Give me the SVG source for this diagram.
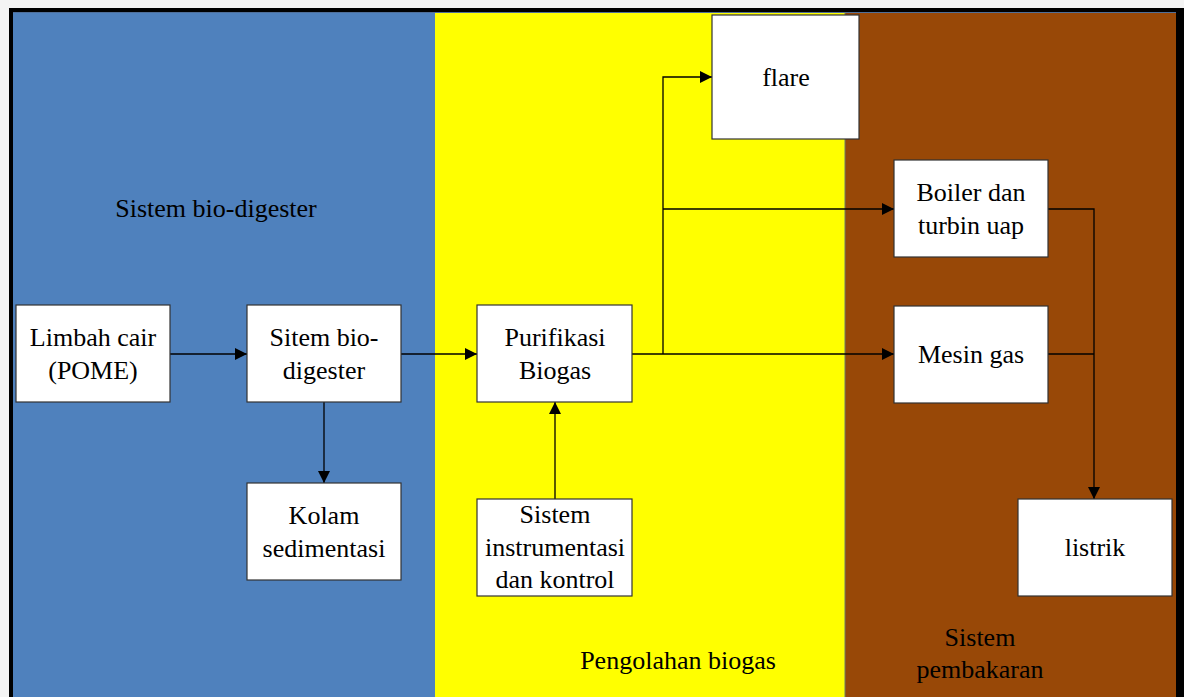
<svg xmlns="http://www.w3.org/2000/svg" width="1184" height="697" viewBox="0 0 1184 697" font-family="'Liberation Serif', 'Times New Roman', 'DejaVu Serif', serif">
<style>
text{font-family:"Liberation Serif","Times New Roman","DejaVu Serif",serif;font-size:26px;fill:#000;text-anchor:middle}
.box{fill:#fff;stroke:#333;stroke-width:1.2}
.c{fill:none;stroke:#000;stroke-width:1.3}
</style>
<defs>
<marker id="ah" viewBox="0 0 12 12" refX="12" refY="6" markerWidth="12" markerHeight="12" markerUnits="userSpaceOnUse" orient="auto"><path d="M0,0L12,6L0,12Z" fill="#000"/></marker>
</defs>
<rect width="1184" height="697" fill="#f4f4f4"/>
<g id="panels">
<rect x="9" y="8" width="1175" height="689" fill="#000"/>
<rect x="13" y="12" width="422" height="685" fill="#4f81bd"/>
<rect x="435" y="12" width="410" height="685" fill="#ffff00"/>
<rect x="845" y="12" width="331" height="685" fill="#984807"/>
<line x1="13" y1="12.5" x2="1176" y2="12.5" stroke="#4f6f9a" stroke-width="1"/>
<line x1="845" y1="12" x2="845" y2="697" stroke="#6b7d6a" stroke-width="1"/>
<text x="216" y="217">Sistem bio-digester</text>
<text x="678" y="669">Pengolahan biogas</text>
<text x="980" y="646">Sistem</text>
<text x="980" y="678">pembakaran</text>
</g>
<g id="connectors">
<line class="c" x1="170" y1="354" x2="247" y2="354" marker-end="url(#ah)"/>
<line class="c" x1="401" y1="354" x2="477" y2="354" marker-end="url(#ah)"/>
<line class="c" x1="324" y1="402" x2="324" y2="483" marker-end="url(#ah)"/>
<line class="c" x1="555" y1="499" x2="555" y2="402" marker-end="url(#ah)"/>
<line class="c" x1="632" y1="354" x2="894" y2="354" marker-end="url(#ah)"/>
<polyline class="c" points="663,354 663,77 712,77" marker-end="url(#ah)"/>
<line class="c" x1="663" y1="209" x2="894" y2="209" marker-end="url(#ah)"/>
<polyline class="c" points="1048,209 1094,209 1094,499" marker-end="url(#ah)"/>
<line class="c" x1="1048" y1="354" x2="1094" y2="354"/>
</g>
<g id="limbah"><rect class="box" x="16" y="305" width="154" height="97"/><text x="93" y="346">Limbah cair</text><text x="93" y="379">(POME)</text></g>
<g id="sitem"><rect class="box" x="247" y="305" width="154" height="97"/><text x="324" y="346">Sitem bio-</text><text x="324" y="379">digester</text></g>
<g id="purifikasi"><rect class="box" x="477" y="305" width="155" height="97"/><text x="555" y="346">Purifikasi</text><text x="555" y="379">Biogas</text></g>
<g id="kolam"><rect class="box" x="247" y="483" width="154" height="97"/><text x="324" y="524">Kolam</text><text x="324" y="557">sedimentasi</text></g>
<g id="instrumentasi"><rect class="box" x="477" y="499" width="155" height="97"/><text x="555" y="523">Sistem</text><text x="555" y="556">instrumentasi</text><text x="555" y="588">dan kontrol</text></g>
<g id="flare"><rect class="box" x="712" y="15" width="147" height="124"/><text x="786" y="86">flare</text></g>
<g id="boiler"><rect class="box" x="894" y="160" width="154" height="97"/><text x="971" y="201">Boiler dan</text><text x="971" y="234">turbin uap</text></g>
<g id="mesin"><rect class="box" x="894" y="306" width="154" height="97"/><text x="971" y="363">Mesin gas</text></g>
<g id="listrik"><rect class="box" x="1018" y="499" width="154" height="97"/><text x="1095" y="556">listrik</text></g>
</svg>
